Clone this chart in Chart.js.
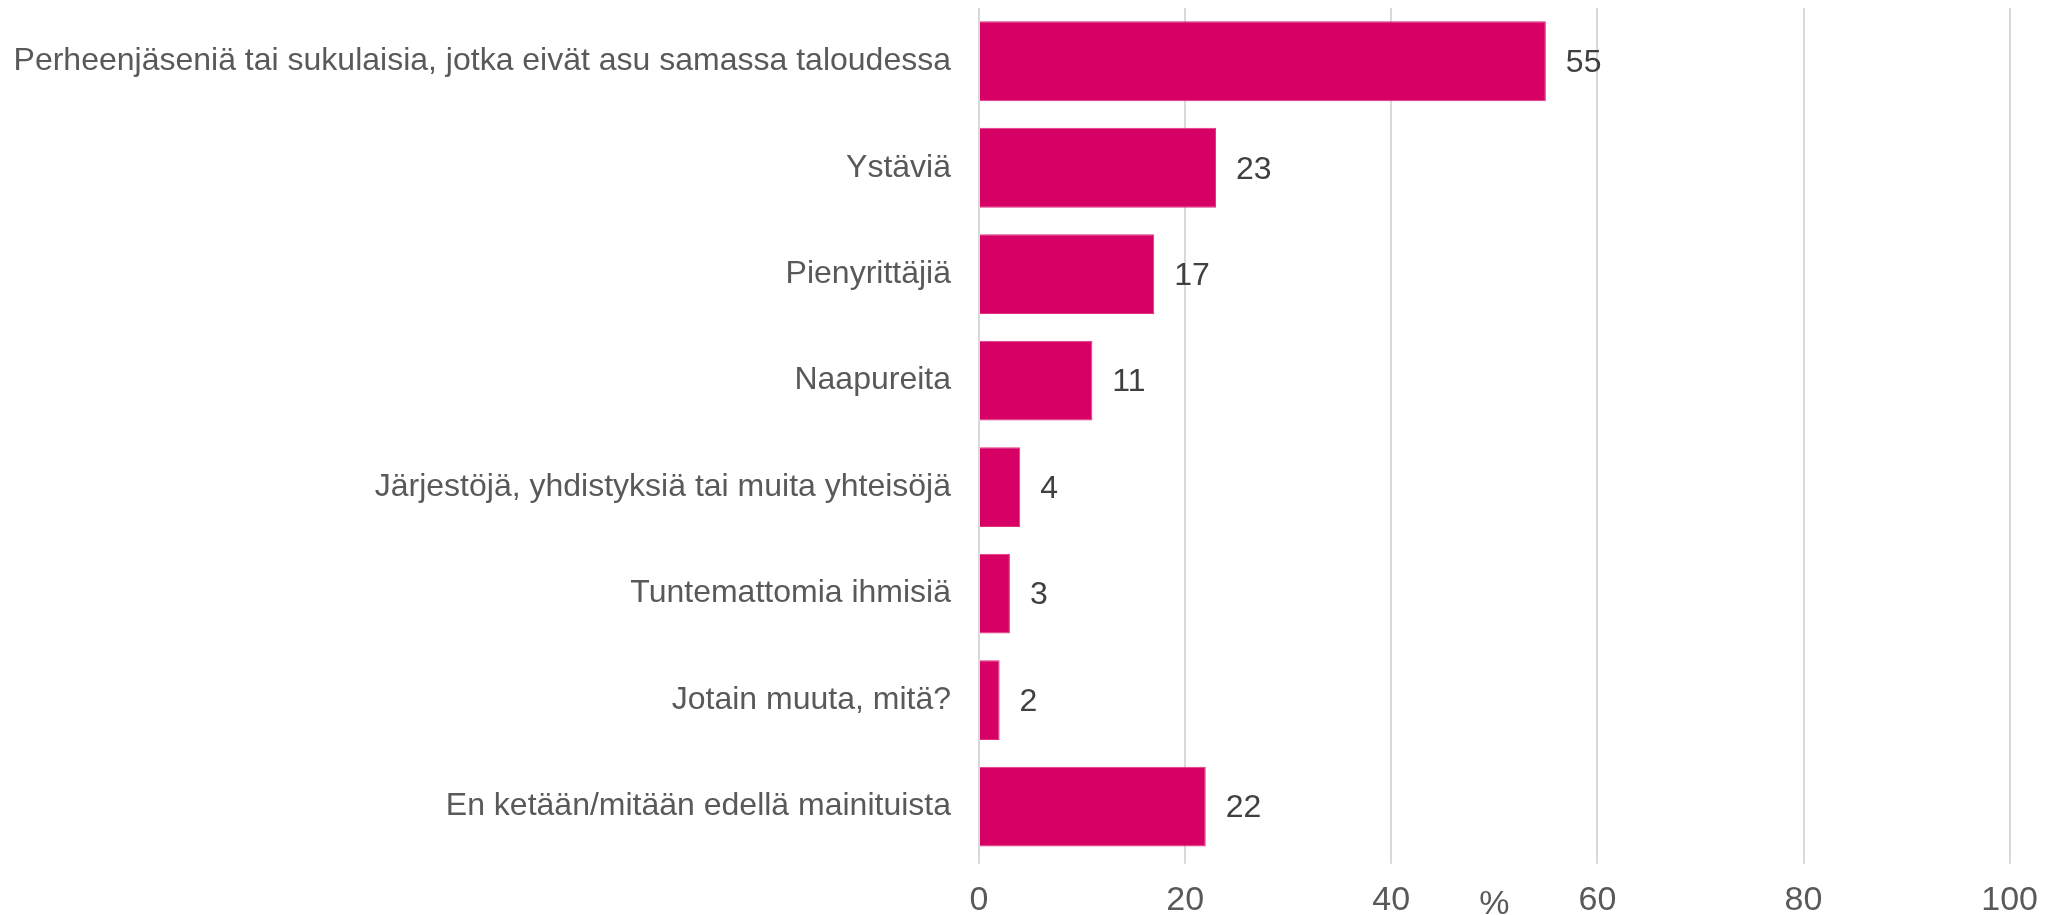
<!DOCTYPE html>
<html>
<head>
<meta charset="utf-8">
<script src="https://cdn.jsdelivr.net/npm/chart.js@4"></script>
<style>
  html, body { margin: 0; padding: 0; background: #fff; }
  #wrap { width: 2054px; height: 915px; position: relative; }
</style>
</head>
<body>
<div id="wrap"><canvas id="chart"></canvas></div>
<script>
const categories = [
  'Perheenjäseniä tai sukulaisia, jotka eivät asu samassa taloudessa',
  'Ystäviä',
  'Pienyrittäjiä',
  'Naapureita',
  'Järjestöjä, yhdistyksiä tai muita yhteisöjä',
  'Tuntemattomia ihmisiä',
  'Jotain muuta, mitä?',
  'En ketään/mitään edellä mainituista'
];
const values = [55, 23, 17, 11, 4, 3, 2, 22];
const xTicks = [0, 20, 40, 60, 80, 100];

const FONT = '"Liberation Sans", Arial, sans-serif';

// value labels at the end of each bar
const valueLabels = {
  id: 'valueLabels',
  afterDatasetsDraw(chart) {
    const ctx = chart.ctx;
    const meta = chart.getDatasetMeta(0);
    ctx.save();
    ctx.font = '32px ' + FONT;
    ctx.fillStyle = '#404040';
    ctx.textAlign = 'left';
    ctx.textBaseline = 'middle';
    meta.data.forEach((bar, i) => {
      ctx.fillText(String(values[i]), bar.x + 20, bar.y + 2);
    });
    ctx.restore();
  }
};

new Chart(document.getElementById('chart'), {
  type: 'bar',
  data: {
    labels: categories,
    datasets: [{
      data: values,
      backgroundColor: '#d70064',
      borderColor: '#e0307f',
      borderWidth: 1,
      categoryPercentage: 1,
      barPercentage: 0.75
    }]
  },
  options: {
    indexAxis: 'y',
    responsive: true,
    maintainAspectRatio: false,
    animation: false,
    layout: { padding: { top: 8, right: 40, left: 0, bottom: 0 } },
    plugins: {
      legend: { display: false },
      tooltip: { enabled: false }
    },
    scales: {
      x: {
        min: 0,
        max: 100,
        afterBuildTicks: s => { s.ticks = xTicks.map(v => ({ value: v })); },
        grid: { color: '#d9d9d9', lineWidth: 2, tickLength: 4, drawTicks: true },
        border: { display: false },
        ticks: {
          color: '#595959',
          padding: 16,
          font: { family: FONT, size: 34 }
        },
        title: {
          display: true,
          text: '%',
          color: '#595959',
          font: { family: FONT, size: 34, lineHeight: 0.6 },
          padding: { top: -42, bottom: 0 }
        }
      },
      y: {
        grid: { display: false, drawTicks: false },
        border: { display: false },
        afterFit: s => { s.width = 979; s.paddingTop = 0; s.paddingBottom = 0; },
        ticks: {
          color: '#595959',
          padding: 28,
          font: { family: FONT, size: 32 }
        }
      }
    }
  },
  plugins: [valueLabels]
});
</script>
</body>
</html>
